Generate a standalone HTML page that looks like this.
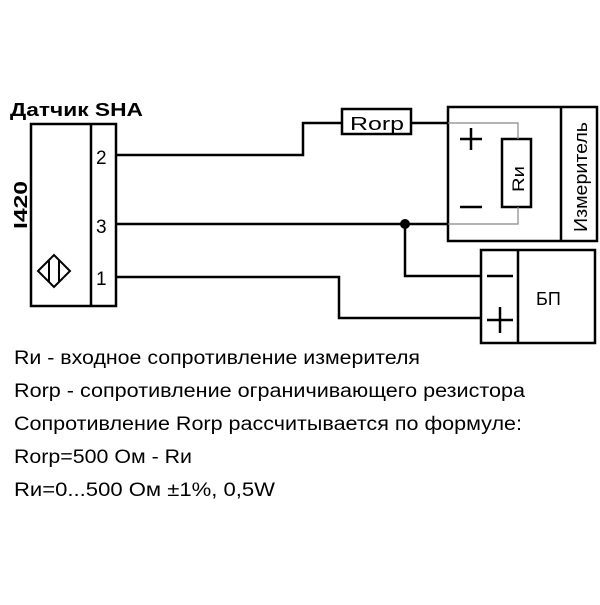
<!DOCTYPE html>
<html><head><meta charset="utf-8"><style>
body{margin:0;background:#fff}
</style></head><body>
<svg width="600" height="600" viewBox="0 0 600 600" xmlns="http://www.w3.org/2000/svg" font-family="'Liberation Sans','DejaVu Sans',sans-serif">
<rect width="600" height="600" fill="#fff"/>
<g fill="none" stroke="#000" stroke-width="2.5">
<rect x="31" y="124" width="85" height="182"/>
<line x1="91" y1="124" x2="91" y2="306"/>
<polyline points="117,155 303,155 303,123 342,123"/>
<rect x="342" y="109" width="69" height="25"/>
<line x1="411" y1="123" x2="448" y2="123"/>
<rect x="448" y="107" width="149" height="134"/>
<line x1="561" y1="107" x2="561" y2="241"/>
<line x1="117" y1="224" x2="448" y2="224"/>
<polyline points="405,224 405,276 481,276"/>
<polyline points="117,277 339,277 339,318 481,318"/>
<rect x="481" y="250" width="114" height="93"/>
<line x1="518" y1="250" x2="518" y2="343"/>
<rect x="502" y="139" width="29" height="68"/>
<path d="M460 139h22M471 128v22M460 207h22"/>
<path d="M487 276h26M487 320h26M500 307v26"/>
<path d="M38 271l16-16 16 16-16 16z M49 260v22 M59 260v22" stroke-width="2"/>
</g>
<g fill="none" stroke="#888" stroke-width="1.2">
<polyline points="448,123 518,123 518,139"/>
<polyline points="518,207 518,224 448,224"/>
</g>
<circle cx="405" cy="224" r="5" fill="#000"/>
<text x="10" y="116" font-size="18" font-weight="bold" textLength="133" lengthAdjust="spacingAndGlyphs">Датчик SHA</text>
<text transform="translate(27,229) rotate(-90)" font-size="18" font-weight="bold" textLength="48" lengthAdjust="spacingAndGlyphs">I420</text>
<text x="96" y="164" font-size="19">2</text>
<text x="96" y="233" font-size="19">3</text>
<text x="96" y="285" font-size="19">1</text>
<text x="350" y="130" font-size="18" textLength="54" lengthAdjust="spacingAndGlyphs">Rorp</text>
<text transform="translate(524,192) rotate(-90)" font-size="17" textLength="26" lengthAdjust="spacingAndGlyphs">Rи</text>
<text transform="translate(587,232) rotate(-90)" font-size="18" textLength="110" lengthAdjust="spacingAndGlyphs">Измеритель</text>
<text x="536" y="305" font-size="18">БП</text>
<g font-size="19">
<text x="14" y="364" textLength="406" lengthAdjust="spacingAndGlyphs">Rи - входное сопротивление измерителя</text>
<text x="14" y="397" textLength="511" lengthAdjust="spacingAndGlyphs">Rorp - сопротивление ограничивающего резистора</text>
<text x="14" y="430" textLength="508" lengthAdjust="spacingAndGlyphs">Сопротивление  Rorp рассчитывается по формуле:</text>
<text x="14" y="463" textLength="178" lengthAdjust="spacingAndGlyphs">Rorp=500 Ом - Rи</text>
<text x="14" y="496" textLength="261" lengthAdjust="spacingAndGlyphs">Rи=0...500 Ом ±1%, 0,5W</text>
</g>
</svg>
</body></html>
